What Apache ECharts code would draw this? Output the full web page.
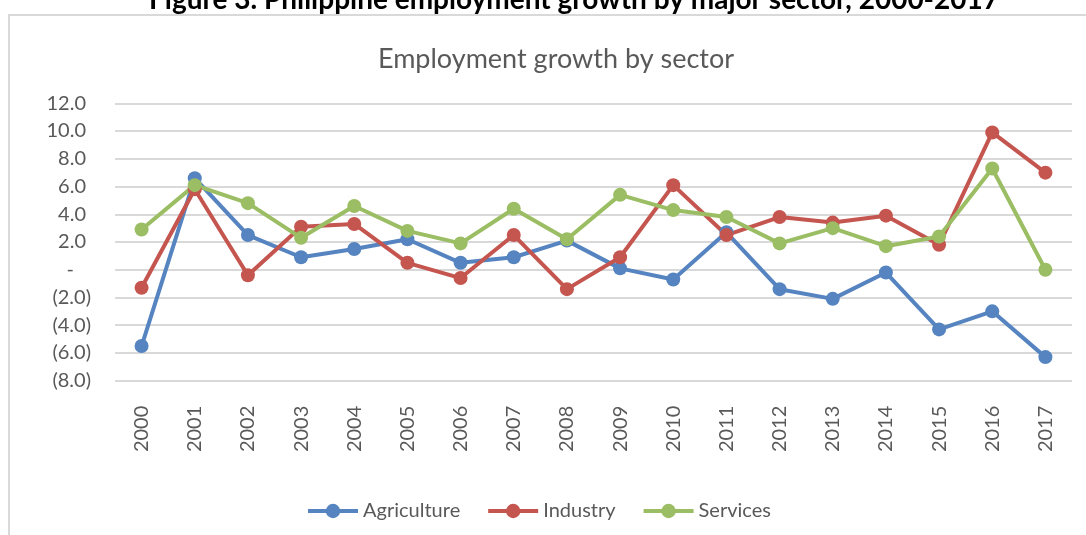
<!DOCTYPE html>
<html>
<head>
<meta charset="utf-8">
<script src="https://cdn.jsdelivr.net/npm/echarts@6/dist/echarts.min.js"></script>
<style>
  html, body { margin: 0; padding: 0; background: #fff; }
  #chart { width: 1086px; height: 535px; }
</style>
</head>
<body>
<div id="chart"></div>
<script>
// Employment growth (%) by major sector, 2000-2017
const years = ['2000','2001','2002','2003','2004','2005','2006','2007','2008',
               '2009','2010','2011','2012','2013','2014','2015','2016','2017'];
const agriculture = [-5.5, 6.6, 2.5, 0.9, 1.5, 2.2, 0.5, 0.9, 2.1, 0.1, -0.7, 2.7, -1.4, -2.1, -0.2, -4.3, -3.0, -6.3];
const industry    = [-1.3, 5.8, -0.4, 3.1, 3.3, 0.5, -0.6, 2.5, -1.4, 0.9, 6.1, 2.5, 3.8, 3.4, 3.9, 1.8, 9.9, 7.0];
const services    = [2.9, 6.1, 4.8, 2.3, 4.6, 2.8, 1.9, 4.4, 2.2, 5.4, 4.3, 3.8, 1.9, 3.0, 1.7, 2.4, 7.3, 0.0];
const seriesNames = ['Agriculture', 'Industry', 'Services'];
const yTicks = { min: -8, max: 12, step: 2 };

const FONT = 'Lato, "Open Sans", sans-serif';
const TEXT = '#595959';
const colors = ['#5584c0', '#c4554f', '#9bbd63'];

// accounting-style labels: negatives in parentheses, zero as a dash
function fmtTick(v) {
  if (v === 0) return '{z|-}';
  if (v < 0) return '(' + Math.abs(v).toFixed(1) + ')';
  return '{p|' + v.toFixed(1) + '}';
}

const chart = echarts.init(document.getElementById('chart'), null, { renderer: 'canvas' });

function lineSeries(name, data, color) {
  return {
    name: name,
    type: 'line',
    data: data,
    symbol: 'circle',
    symbolSize: 14,
    lineStyle: { width: 4, color: color },
    itemStyle: { color: color },
    emphasis: { disabled: true },
    animation: false
  };
}

chart.setOption({
  backgroundColor: '#ffffff',
  animation: false,
  color: colors,
  graphic: [
    {
      type: 'rect',
      shape: { x: 9, y: 15, width: 1100, height: 600 },
      style: { fill: 'none', stroke: '#d9d9d9', lineWidth: 2 },
      silent: true
    },
    {
      type: 'text',
      x: 574, y: 0,
      style: {
        text: 'Figure 3. Philippine employment growth by major sector, 2000-2017',
        font: 'bold 28px ' + FONT,
        fill: '#000',
        align: 'center',
        verticalAlign: 'middle'
      },
      silent: true
    }
  ],
  title: {
    text: 'Employment growth by sector',
    left: 551,
    textAlign: 'center',
    top: 41,
    textStyle: { fontFamily: FONT, fontSize: 27, fontWeight: 'normal', color: TEXT }
  },
  legend: {
    data: seriesNames,
    left: 301,
    top: 496,
    itemWidth: 50,
    itemHeight: 18,
    itemGap: 26,
    lineStyle: { width: 4 },
    textStyle: { fontFamily: FONT, fontSize: 20, color: TEXT }
  },
  grid: { left: 115, right: 14, top: 103.3, bottom: 154.3, containLabel: false },
  xAxis: {
    type: 'category',
    data: years,
    boundaryGap: true,
    axisLine: { show: false },
    axisTick: { show: false },
    axisLabel: {
      rotate: 90,
      margin: 25,
      fontFamily: FONT,
      fontSize: 20,
      color: TEXT
    }
  },
  yAxis: {
    type: 'value',
    min: yTicks.min,
    max: yTicks.max,
    interval: yTicks.step,
    axisLine: { show: false },
    axisTick: { show: false },
    splitLine: { lineStyle: { color: '#d9d9d9', width: 2 } },
    axisLabel: {
      margin: 24,
      fontFamily: FONT,
      fontSize: 20,
      color: TEXT,
      formatter: fmtTick,
      rich: {
        p: { fontFamily: FONT, fontSize: 20, color: TEXT, padding: [0, 5, 0, 0] },
        z: { fontFamily: FONT, fontSize: 20, color: TEXT, padding: [0, 17, 0, 0] }
      }
    }
  },
  series: [
    lineSeries(seriesNames[0], agriculture, colors[0]),
    lineSeries(seriesNames[1], industry, colors[1]),
    lineSeries(seriesNames[2], services, colors[2])
  ]
});
</script>
</body>
</html>
